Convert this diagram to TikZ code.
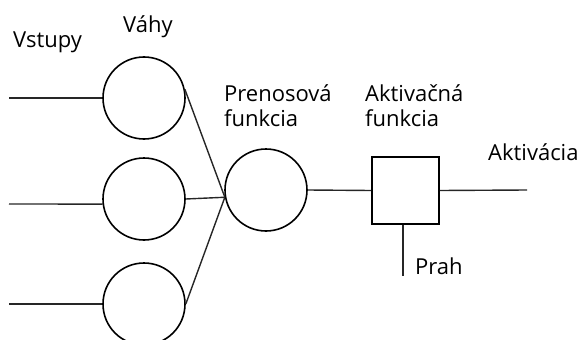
\documentclass[tikz,border=0pt]{standalone}
\usepackage{fontspec}
\setmainfont{Open Sans}
\begin{document}
\begin{tikzpicture}[x=1pt,y=-1pt,
  wcirc/.style={draw,circle,line width=1.6pt,minimum size=82pt,inner sep=0pt},
  actbox/.style={draw,rectangle,line width=1.6pt,minimum size=67pt,inner sep=0pt},
  conn/.style={line width=1.4pt,draw=black!85},
  lbl/.style={font=\fontsize{22}{25}\selectfont,inner sep=0pt,text=black,anchor=base west}]
\useasboundingbox (0,0) rectangle (579,340);
\node[wcirc] (w1) at (144,98) {};
\node[wcirc] (w2) at (144,199) {};
\node[wcirc] (w3) at (144,304) {};
\node[wcirc] (t) at (266,190) {};
\node[actbox] (a) at (405.5,190.5) {};
\coordinate (i1) at (9,98);
\coordinate (i2) at (9,204);
\coordinate (i3) at (9,304);
\coordinate (out) at (527,190);
\coordinate (th) at (403,276);
\draw[conn] (i1) -- (w1.west);
\draw[conn] (i2) -- (w2.187);
\draw[conn] (i3) -- (w3.west);
\draw[conn] (w1.12) -- (t.190);
\draw[conn] (w2.east) -- (t.190);
\draw[conn] (w3.east) -- (t.190);
\draw[conn] (t.east) -- (a.west);
\draw[conn] (a.east) -- (out);
\draw[conn] (a.south -| th) -- (th);
\node[lbl] (lv) at (13,47) {Vstupy};
\node[lbl] (lw) at (123,32) {Váhy};
\node[lbl] (lt1) at (224,101) {Prenosová};
\node[lbl] (lt2) at (224,126) {funkcia};
\node[lbl] (la1) at (365,101) {Aktivačná};
\node[lbl] (la2) at (365,126) {funkcia};
\node[lbl] (lo) at (488,160) {Aktivácia};
\node[lbl] (lp) at (415,274) {Prah};
\end{tikzpicture}
\end{document}
